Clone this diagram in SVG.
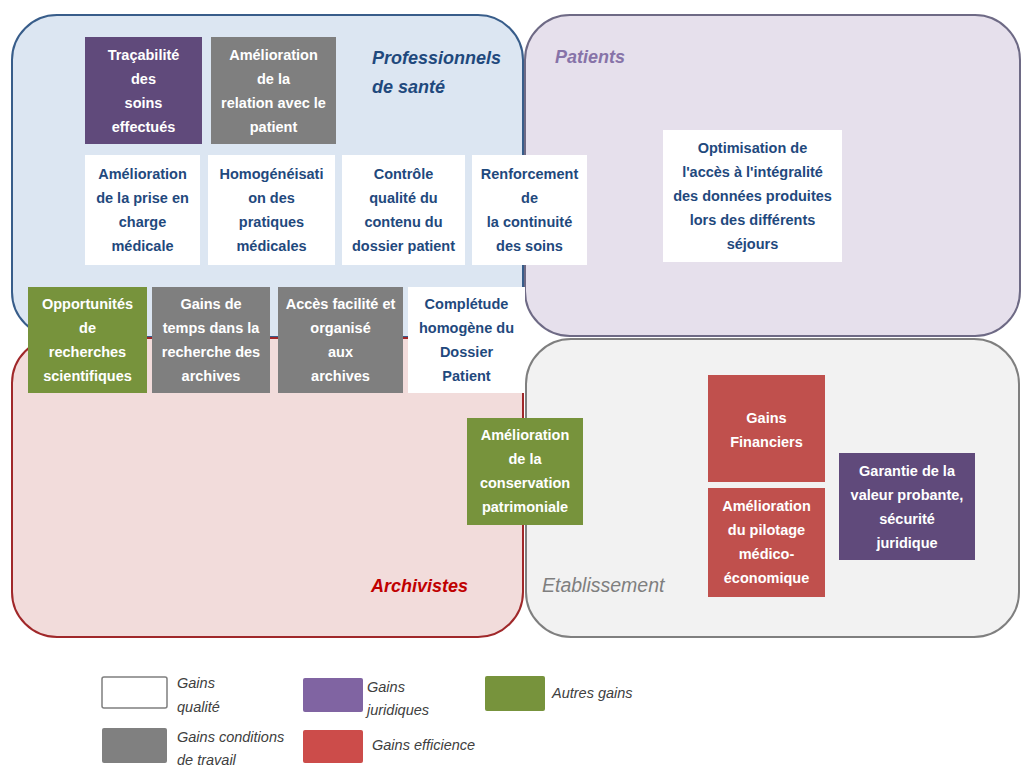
<svg xmlns="http://www.w3.org/2000/svg" width="1025" height="767" viewBox="0 0 1025 767">
<style>
text{font-family:"Liberation Sans",Arial,sans-serif;}
.t{font-size:14.5px;font-weight:bold;text-anchor:middle;}
.w{fill:#ffffff;}
.b{fill:#1f497d;}
.title{font-size:18px;font-weight:bold;font-style:italic;}
.leg{font-size:14.5px;font-style:italic;fill:#404040;}
.purple{fill:#604a7b;}
.grey{fill:#7f7f7f;}
.green{fill:#77933c;}
.red{fill:#c0504d;}
.white{fill:#ffffff;}
</style>
<rect width="1025" height="767" fill="#ffffff"/>
<g id="zone-professionnels">
<rect x="12" y="15" width="511" height="322" rx="45" fill="#dce6f2" stroke="#385d8a" stroke-width="2"/>
<text class="title" x="372" y="64" fill="#1f497d">Professionnels</text>
<text class="title" x="372" y="93" fill="#1f497d">de santé</text>
</g>
<g id="zone-patients">
<rect x="525" y="15" width="495" height="321" rx="45" fill="#e6e0ec" stroke="#6e6a85" stroke-width="2"/>
<text class="title" x="555" y="63" fill="#8773a8">Patients</text>
</g>
<g id="zone-archivistes">
<rect x="12" y="338" width="511" height="299" rx="45" fill="#f2dcdb" stroke="#a0282a" stroke-width="2"/>
<text class="title" x="468" y="592" fill="#c00000" text-anchor="end">Archivistes</text>
</g>
<g id="zone-etablissement">
<rect x="526" y="339" width="493" height="298" rx="45" fill="#f2f2f2" stroke="#7f7f7f" stroke-width="2"/>
<text x="542" y="592" fill="#7f7f7f" style="font-size:19.5px;font-style:italic;">Etablissement</text>
</g>
<g id="connectors"></g>
<g id="n-tracabilite">
<rect class="purple" x="85" y="37" width="117" height="107"/>
<text class="t w" x="143.5" y="60">Traçabilité</text>
<text class="t w" x="143.5" y="84">des</text>
<text class="t w" x="143.5" y="108">soins</text>
<text class="t w" x="143.5" y="132">effectués</text>
</g>
<g id="n-relation">
<rect class="grey" x="211" y="37" width="125" height="107"/>
<text class="t w" x="273.5" y="60">Amélioration</text>
<text class="t w" x="273.5" y="84">de la</text>
<text class="t w" x="273.5" y="108">relation avec le</text>
<text class="t w" x="273.5" y="132">patient</text>
</g>
<g id="n-prise-en-charge">
<rect class="white" x="85" y="155" width="115" height="110"/>
<text class="t b" x="142.5" y="179">Amélioration</text>
<text class="t b" x="142.5" y="203">de la prise en</text>
<text class="t b" x="142.5" y="227">charge</text>
<text class="t b" x="142.5" y="251">médicale</text>
</g>
<g id="n-homogeneisation">
<rect class="white" x="208" y="155" width="127" height="110"/>
<text class="t b" x="271.5" y="179">Homogénéisati</text>
<text class="t b" x="271.5" y="203">on des</text>
<text class="t b" x="271.5" y="227">pratiques</text>
<text class="t b" x="271.5" y="251">médicales</text>
</g>
<g id="n-controle">
<rect class="white" x="342" y="155" width="123" height="110"/>
<text class="t b" x="403.5" y="179">Contrôle</text>
<text class="t b" x="403.5" y="203">qualité du</text>
<text class="t b" x="403.5" y="227">contenu du</text>
<text class="t b" x="403.5" y="251">dossier patient</text>
</g>
<g id="n-renforcement">
<rect class="white" x="472" y="155" width="115" height="110"/>
<text class="t b" x="529.5" y="179">Renforcement</text>
<text class="t b" x="529.5" y="203">de</text>
<text class="t b" x="529.5" y="227">la continuité</text>
<text class="t b" x="529.5" y="251">des soins</text>
</g>
<g id="n-optimisation">
<rect class="white" x="663" y="130" width="179" height="132"/>
<text class="t b" x="752.5" y="153">Optimisation de</text>
<text class="t b" x="752.5" y="177">l'accès à l'intégralité</text>
<text class="t b" x="752.5" y="201">des données produites</text>
<text class="t b" x="752.5" y="225">lors des différents</text>
<text class="t b" x="752.5" y="249">séjours</text>
</g>
<g id="n-opportunites">
<rect class="green" x="28" y="287" width="119" height="106"/>
<text class="t w" x="87.5" y="309">Opportunités</text>
<text class="t w" x="87.5" y="333">de</text>
<text class="t w" x="87.5" y="357">recherches</text>
<text class="t w" x="87.5" y="381">scientifiques</text>
</g>
<g id="n-gains-temps">
<rect class="grey" x="152" y="287" width="118" height="106"/>
<text class="t w" x="211" y="309">Gains de</text>
<text class="t w" x="211" y="333">temps dans la</text>
<text class="t w" x="211" y="357">recherche des</text>
<text class="t w" x="211" y="381">archives</text>
</g>
<g id="n-acces">
<rect class="grey" x="278" y="287" width="125" height="106"/>
<text class="t w" x="340.5" y="309">Accès facilité et</text>
<text class="t w" x="340.5" y="333">organisé</text>
<text class="t w" x="340.5" y="357">aux</text>
<text class="t w" x="340.5" y="381">archives</text>
</g>
<g id="n-completude">
<rect class="white" x="408" y="287" width="117" height="106"/>
<text class="t b" x="466.5" y="309">Complétude</text>
<text class="t b" x="466.5" y="333">homogène du</text>
<text class="t b" x="466.5" y="357">Dossier</text>
<text class="t b" x="466.5" y="381">Patient</text>
</g>
<g id="n-conservation">
<rect class="green" x="467" y="418" width="116" height="107"/>
<text class="t w" x="525" y="440">Amélioration</text>
<text class="t w" x="525" y="464">de la</text>
<text class="t w" x="525" y="488">conservation</text>
<text class="t w" x="525" y="512">patrimoniale</text>
</g>
<g id="n-gains-financiers">
<rect class="red" x="708" y="375" width="117" height="107"/>
<text class="t w" x="766.5" y="423">Gains</text>
<text class="t w" x="766.5" y="447">Financiers</text>
</g>
<g id="n-pilotage">
<rect class="red" x="708" y="488" width="117" height="109"/>
<text class="t w" x="766.5" y="511">Amélioration</text>
<text class="t w" x="766.5" y="535">du pilotage</text>
<text class="t w" x="766.5" y="559">médico-</text>
<text class="t w" x="766.5" y="583">économique</text>
</g>
<g id="n-garantie">
<rect class="purple" x="839" y="453" width="136" height="107"/>
<text class="t w" x="907" y="476">Garantie de la</text>
<text class="t w" x="907" y="500">valeur probante,</text>
<text class="t w" x="907" y="524">sécurité</text>
<text class="t w" x="907" y="548">juridique</text>
</g>
<g id="legend">
<rect x="102" y="677" width="65" height="31" rx="2" fill="#ffffff" stroke="#7f7f7f" stroke-width="1.5"/>
<text class="leg" x="177" y="688">Gains</text>
<text class="leg" x="177" y="712">qualité</text>
<rect x="102" y="728" width="65" height="35" rx="2" fill="#808080"/>
<text class="leg" x="177" y="742">Gains conditions</text>
<text class="leg" x="177" y="765">de travail</text>
<rect x="303" y="678" width="60" height="34" rx="2" fill="#8064a2"/>
<text class="leg" x="367" y="692">Gains</text>
<text class="leg" x="367" y="715">juridiques</text>
<rect x="303" y="730" width="60" height="33" rx="2" fill="#cc4c4a"/>
<text class="leg" x="372" y="750">Gains efficience</text>
<rect x="485" y="676" width="60" height="35" rx="2" fill="#77933c"/>
<text class="leg" x="552" y="698">Autres gains</text>
</g>
</svg>
